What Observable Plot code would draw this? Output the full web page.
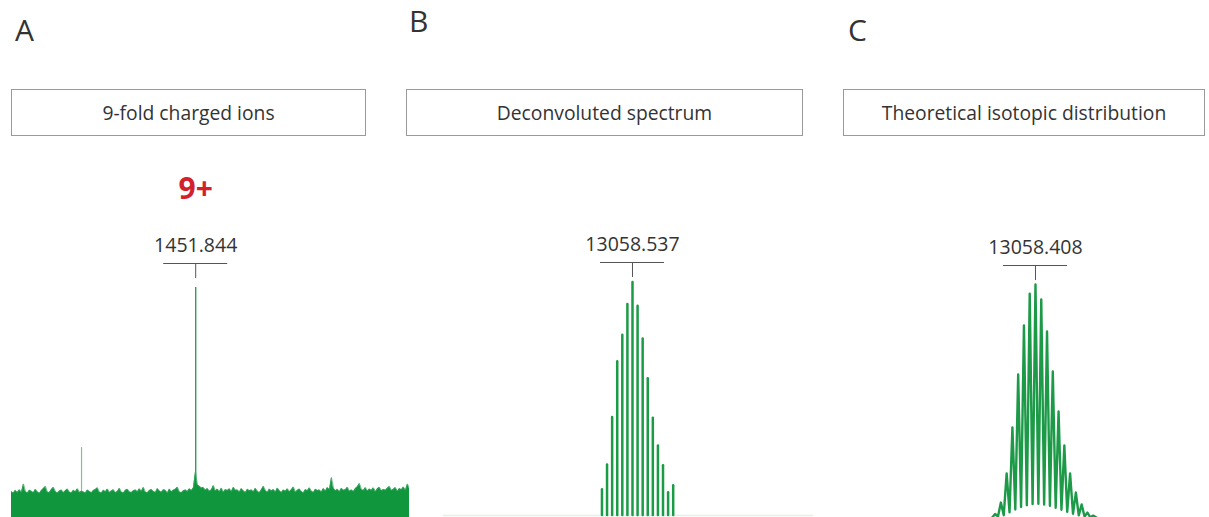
<!DOCTYPE html>
<html>
<head>
<meta charset="utf-8">
<script src="https://cdn.jsdelivr.net/npm/d3@7"></script>
<script src="https://cdn.jsdelivr.net/npm/@observablehq/plot@0.6"></script>
<style>
  html, body { margin: 0; padding: 0; background: #fff; }
  #fig { position: relative; width: 1209px; height: 517px; overflow: hidden;
         font-family: "Open Sans", sans-serif; color: #333; }
  .letter { position: absolute; font-size: 30px; line-height: 30px; }
  .title { position: absolute; top: 89px; height: 47px; box-sizing: border-box;
           border: 1.2px solid #9a9a9a; display: flex; align-items: center;
           justify-content: center; font-size: 19.3px; }
  .panel { position: absolute; top: 150px; }
</style>
</head>
<body>
<div id="fig"></div>
<script>
// ---- Panel headings ----
const panelLetters = ["A", "B", "C"];
const panelTitles = ["9-fold charged ions", "Deconvoluted spectrum", "Theoretical isotopic distribution"];

// ---- Panel A: raw m/z spectrum ----
const mzDomainA = [1313, 1613];
// noise floor intensity (% of base peak), evenly sampled across the m/z window
const noiseA = [
  11.2, 10.6, 11.8, 10.9, 12.1, 11.0, 14.6, 11.3, 10.7, 11.9,
  11.4, 10.8, 12.3, 11.1, 10.5, 11.7, 12.6, 13.5, 11.0, 10.9,
  12.2, 13.1, 11.3, 10.6, 11.5, 12.0, 10.8, 11.6, 12.4, 11.0,
  10.7, 11.8, 11.2, 12.5, 10.9, 11.4, 11.1, 10.6, 12.0, 11.3,
  10.8, 11.7, 12.2, 12.9, 11.0, 10.7, 11.9, 11.2, 12.4, 10.9,
  11.5, 12.1, 10.8, 11.3, 12.7, 11.0, 10.6, 11.8, 12.3, 11.1,
  10.9, 11.6, 12.0, 11.2, 12.5, 11.4, 13.1, 11.0, 10.8, 11.7,
  12.2, 11.3, 10.9, 12.6, 11.5, 11.0, 12.1, 11.8, 10.7, 12.4,
  11.2, 11.9, 12.3, 13.2, 11.1, 10.8, 11.6, 12.0, 11.3, 12.5,
  11.7, 12.9, 20.0, 14.2, 13.6, 12.8, 13.0, 11.9, 12.6, 11.4,
  12.1, 13.9, 11.5, 12.4, 11.2, 12.8, 11.0, 12.2, 11.7, 12.5,
  11.3, 13.2, 11.8, 12.0, 11.1, 12.6, 11.5, 10.9, 12.3, 11.6,
  12.0, 11.2, 12.7, 11.4, 10.8, 12.1, 13.6, 11.7, 11.0, 12.4,
  11.5, 12.2, 11.1, 12.8, 11.6, 10.9, 12.0, 11.4, 12.5, 11.2,
  12.1, 13.3, 11.0, 11.8, 12.4, 11.3, 10.7, 12.2, 11.6, 12.9,
  11.4, 10.9, 12.3, 11.7, 12.0, 11.1, 12.6, 11.5, 13.0, 12.2,
  17.4, 12.8, 11.6, 12.3, 11.2, 12.7, 11.9, 12.1, 13.2, 11.4,
  12.0, 11.3, 12.6, 13.4, 14.8, 12.2, 11.7, 13.0, 11.5, 12.4,
  11.8, 12.9, 11.2, 12.5, 13.1, 11.6, 12.2, 11.9, 12.7, 13.5,
  11.7, 12.3, 13.0, 11.4, 12.6, 12.1, 13.3, 11.8, 14.6, 12.5
];
const peakMzA = 1451.844;
const minorMzA = 1365.8;
const minorIntA = 30.4;
const chargeLabelA = "9+";
const peakLabelA = "1451.844";

// ---- Panel B: deconvoluted isotope cluster ----
const massDomainB = [13021.26, 13094.24];
const massB = [13052.517, 13053.520, 13054.524, 13055.527, 13056.530, 13057.534, 13058.537,
               13059.540, 13060.544, 13061.547, 13062.550, 13063.554, 13064.557, 13065.561, 13066.564];
const intB  = [11.1, 21.7, 42.1, 66.0, 77.4, 90.6, 100, 89.8, 75.7, 58.7, 41.7, 29.8, 21.3, 9.8, 12.8];
const peakMassB = 13058.537;
const peakLabelB = "13058.537";

// ---- Panel C: theoretical isotopic profile (peak tops and valleys) ----
const massDomainC = [13025.02, 13088.67];
const massC = [
  13050.88, 13051.385, 13051.886, 13052.388, 13052.890, 13053.391, 13053.893, 13054.395,
  13054.896, 13055.398, 13055.900, 13056.401, 13056.903, 13057.405, 13057.906, 13058.408,
  13058.910, 13059.411, 13059.913, 13060.415, 13060.916, 13061.418, 13061.920, 13062.422,
  13062.923, 13063.425, 13063.927, 13064.428, 13064.930, 13065.432, 13065.933, 13066.435,
  13066.937, 13067.438, 13067.940, 13068.440, 13069.000
];
const intC = [
  0, 1.5, 0.4, 6.4, 1.0, 18.9, 2.2, 38.6,
  3.4, 61.4, 4.5, 82.4, 5.3, 96.1, 5.8, 100,
  5.9, 93.6, 5.6, 79.8, 5.0, 62.7, 4.2, 45.5,
  3.3, 30.9, 2.4, 18.9, 1.6, 10.7, 0.9, 5.6,
  0.4, 2.1, 0.1, 0.8, 0
];
const peakMassC = 13058.408;
const peakLabelC = "13058.408";

// ---- shared styling ----
const green = "#10963c";
const ink = "#333";
const bracketInk = "#555";
const panelHeight = 367;

const fig = document.getElementById("fig");

// headings: letter and boxed title per panel
const letterPos = [{left: 15, top: 15}, {left: 409, top: 6}, {left: 848, top: 15}];
const boxPos = [{left: 11, width: 355}, {left: 406, width: 397}, {left: 843, width: 362}];
panelLetters.forEach((t, i) => {
  const d = document.createElement("div");
  d.className = "letter";
  d.style.left = letterPos[i].left + "px";
  d.style.top = letterPos[i].top + "px";
  d.textContent = t;
  fig.appendChild(d);
});
panelTitles.forEach((t, i) => {
  const d = document.createElement("div");
  d.className = "title";
  d.style.left = boxPos[i].left + "px";
  d.style.width = boxPos[i].width + "px";
  d.textContent = t;
  fig.appendChild(d);
});

// peak annotation: bracket, tick above the apex and the mass label
function annotate(peak, label, domain, width, pxPerUnit, gap) {
  const half = 32 * (domain[1] - domain[0]) / width;
  const up = px => 100 + px / pxPerUnit;
  return [
    Plot.ruleY([up(gap + 15)], {x1: peak - half, x2: peak + half, stroke: bracketInk, strokeWidth: 1}),
    Plot.ruleX([peak], {y1: up(gap), y2: up(gap + 15), stroke: bracketInk, strokeWidth: 1}),
    Plot.text([label], {x: peak, y: up(gap + 15), dy: -18, text: d => d,
      fontSize: 19.5, fill: ink, fontFamily: "Open Sans"})
  ];
}

function place(svg, left) {
  const wrap = document.createElement("div");
  wrap.className = "panel";
  wrap.style.left = left + "px";
  wrap.appendChild(svg);
  fig.appendChild(wrap);
}

// Panel A
{
  const width = 398, mt = 137, mb = 0;
  const ppu = (panelHeight - mt - mb) / 100;
  const step = (mzDomainA[1] - mzDomainA[0]) / (noiseA.length - 1);
  const noise = noiseA.map((v, i) => ({mz: mzDomainA[0] + i * step, intensity: v}));
  const up = px => 100 + px / ppu;
  const svg = Plot.plot({
    width, height: panelHeight,
    marginTop: mt, marginBottom: mb, marginLeft: 0, marginRight: 0,
    x: {domain: mzDomainA, axis: null},
    y: {domain: [0, 100], axis: null},
    style: {background: "transparent"},
    marks: [
      // peak sticks sit behind the noise floor
      Plot.ruleX([minorMzA], {y1: 0, y2: minorIntA, stroke: "#7cc492", strokeWidth: 1.2}),
      Plot.ruleX([peakMzA], {y1: 0, y2: 100, stroke: "#2f9e55", strokeWidth: 1.4}),
      Plot.areaY(noise, {x: "mz", y: "intensity", fill: green}),
      Plot.lineY(noise, {x: "mz", y: "intensity", stroke: "#3aa862", strokeWidth: 0.7}),
      ...annotate(peakMzA, peakLabelA, mzDomainA, width, ppu, 9),
      Plot.text([chargeLabelA], {x: peakMzA, y: up(24), dy: -74, text: d => d,
        fontSize: 30, fontWeight: "bold", fill: "#d3212c", fontFamily: "Open Sans"})
    ]
  });
  place(svg, 11);
}

// Panel B
{
  const width = 370, mt = 132, mb = 2;
  const ppu = (panelHeight - mt - mb) / 100;
  const sticks = massB.map((m, i) => ({mass: m, intensity: intB[i]}));
  const svg = Plot.plot({
    width, height: panelHeight,
    marginTop: mt, marginBottom: mb, marginLeft: 0, marginRight: 0,
    x: {domain: massDomainB, axis: null},
    y: {domain: [0, 100], axis: null},
    style: {background: "transparent"},
    marks: [
      Plot.ruleY([0], {stroke: "#e4f1e8", strokeWidth: 1.5}),
      Plot.ruleX(sticks, {x: "mass", y1: 0, y2: "intensity", stroke: "#1a9b46",
        strokeWidth: 2.5, strokeLinecap: "round"}),
      ...annotate(peakMassB, peakLabelB, massDomainB, width, ppu, 5)
    ]
  });
  place(svg, 443);
}

// Panel C
{
  const width = 366, mt = 134, mb = 0;
  const ppu = (panelHeight - mt - mb) / 100;
  const profile = massC.map((m, i) => ({mass: m, intensity: intC[i]}));
  const svg = Plot.plot({
    width, height: panelHeight,
    marginTop: mt, marginBottom: mb, marginLeft: 0, marginRight: 0,
    x: {domain: massDomainC, axis: null},
    y: {domain: [0, 100], axis: null},
    style: {background: "transparent"},
    marks: [
      Plot.lineY(profile, {x: "mass", y: "intensity", stroke: "#1c9a48",
        strokeWidth: 2.4, strokeLinejoin: "round"}),
      ...annotate(peakMassC, peakLabelC, massDomainC, width, ppu, 4)
    ]
  });
  place(svg, 843);
}
</script>
</body>
</html>
